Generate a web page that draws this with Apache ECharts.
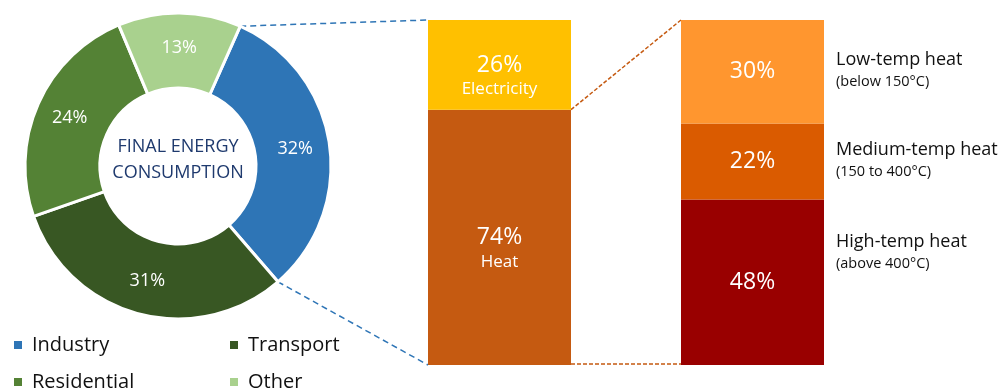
<!DOCTYPE html>
<html>
<head>
<meta charset="utf-8">
<script src="https://cdn.jsdelivr.net/npm/echarts@6/dist/echarts.min.js"></script>
<style>
  html, body { margin: 0; padding: 0; background: #fff; }
  #main { width: 1008px; height: 391px; }
</style>
</head>
<body>
<div id="main"></div>
<script>
// 数据
const sectors = ['Industry', 'Transport', 'Residential', 'Other'];
const sectorShare = [32, 31, 24, 13];
const sectorColors = ['#2E75B6', '#385723', '#548235', '#A9D18E'];

const barCats = ['Industry', 'Heat'];
const heatShare = [74, '-'];
const elecShare = [26, '-'];
const highShare = ['-', 48];
const medShare = ['-', 22];
const lowShare = ['-', 30];

const heatNames = ['Low-temp heat', 'Medium-temp heat', 'High-temp heat'];
const heatRanges = ['(below 150°C)', '(150 to 400°C)', '(above 400°C)'];

const fontFamily = '"Open Sans", "Noto Sans", sans-serif';
const pieCenter = [178, 166];
const pieRadius = [78, 153];
const startAngle = 66;
const barWidth = 143;

let chart = echarts.init(document.getElementById('main'));

function barSeries(name, data, color, label) {
  return {
    name: name,
    type: 'bar',
    stack: 'total',
    data: data,
    barWidth: barWidth,
    xAxisIndex: 0,
    yAxisIndex: 0,
    itemStyle: { color: color },
    label: label,
    silent: true
  };
}

const pctLabel = {
  show: true,
  position: 'inside',
  color: '#fff',
  fontFamily: fontFamily,
  fontSize: 23,
  formatter: '{c}%'
};

// 百分比居中，名称在下方
function namedLabel(text) {
  return {
    show: true,
    position: 'inside',
    offset: [0, 12],
    formatter: '{p|{c}%}\n{n|' + text + '}',
    rich: {
      p: { color: '#fff', fontFamily: fontFamily, fontSize: 23, lineHeight: 25 },
      n: { color: '#fff', fontFamily: fontFamily, fontSize: 17, lineHeight: 23 }
    }
  };
}

function legendOpt(data, left) {
  return {
    data: data,
    orient: 'vertical',
    left: left, top: 335,
    height: 120,
    padding: 0,
    itemWidth: 10, itemHeight: 10, itemGap: 17,
    icon: 'rect',
    textStyle: { fontFamily: fontFamily, fontSize: 20, color: '#111', padding: [0, 0, 0, 4] }
  };
}

let option = {
  backgroundColor: '#fff',
  animation: false,
  legend: [
    legendOpt(['Industry', 'Residential'], 12),
    legendOpt(['Transport', 'Other'], 228)
  ],
  grid: { left: 373, width: 506, top: 20, bottom: 26 },
  xAxis: { type: 'category', data: barCats, show: false },
  yAxis: { type: 'value', min: 0, max: 100, show: false },
  series: [
    {
      name: 'Final energy',
      type: 'pie',
      center: pieCenter,
      radius: pieRadius,
      startAngle: startAngle,
      clockwise: true,
      silent: true,
      data: sectors.map((n, i) => ({ name: n, value: sectorShare[i], itemStyle: { color: sectorColors[i] } })),
      itemStyle: { borderColor: '#fff', borderWidth: 3 },
      label: {
        show: true,
        position: 'inside',
        formatter: '{c}%',
        color: '#fff',
        fontFamily: fontFamily,
        fontSize: 18
      },
      labelLine: { show: false }
    },
    barSeries('Heat', heatShare, '#C55A11', namedLabel('Heat')),
    barSeries('Electricity', elecShare, '#FFC000', namedLabel('Electricity')),
    barSeries('High-temp', highShare, '#990000', pctLabel),
    barSeries('Medium-temp', medShare, '#DA5B00', pctLabel),
    barSeries('Low-temp', lowShare, '#FF962F', pctLabel)
  ]
};
chart.setOption(option);

// 连接虚线和文字
function piePoint(deg) {
  let a = deg * Math.PI / 180;
  return [pieCenter[0] + pieRadius[1] * Math.cos(a), pieCenter[1] - pieRadius[1] * Math.sin(a)];
}
function px(cat, val) {
  return chart.convertToPixel({ xAxisIndex: 0, yAxisIndex: 0 }, [cat, val]);
}
let total = sectorShare.reduce((a, b) => a + b, 0);
let pA = piePoint(startAngle);
let pB = piePoint(startAngle - sectorShare[0] / total * 360);
let b1Top = px(0, 100), b1Bot = px(0, 0), b1Split = px(0, heatShare[0]);
let b2Top = px(1, 100), b2Bot = px(1, 0);
let half = barWidth / 2;

function dashLine(p, q, color, dash) {
  return {
    type: 'line',
    shape: { x1: p[0], y1: p[1], x2: q[0], y2: q[1] },
    style: { stroke: color, lineWidth: 1.5, lineDash: dash },
    silent: true
  };
}

let graphics = [
  dashLine(pA, [b1Top[0] - half, b1Top[1]], '#2E75B6', [6, 4]),
  dashLine(pB, [b1Bot[0] - half, b1Bot[1]], '#2E75B6', [6, 4]),
  dashLine([b1Split[0] + half, b1Split[1]], [b2Top[0] - half, b2Top[1]], '#C55A11', [4, 2]),
  dashLine([b1Bot[0] + half, b1Bot[1] - 1], [b2Bot[0] - half, b2Bot[1] - 1], '#C55A11', [4, 2]),
  {
    type: 'text',
    x: pieCenter[0], y: 160,
    style: {
      text: 'FINAL ENERGY\nCONSUMPTION',
      fill: '#1F3A6E',
      font: '18px ' + fontFamily,
      lineHeight: 26,
      textAlign: 'center',
      textVerticalAlign: 'middle'
    },
    silent: true
  }
];

const labelTop = [60, 150, 242];
heatNames.forEach((n, i) => {
  graphics.push({
    type: 'text', x: b2Top[0] + half + 12, y: labelTop[i],
    style: { text: n, fill: '#111', font: '18px ' + fontFamily, textVerticalAlign: 'middle' },
    silent: true
  });
  graphics.push({
    type: 'text', x: b2Top[0] + half + 12, y: labelTop[i] + 22,
    style: { text: heatRanges[i], fill: '#111', font: '14.5px ' + fontFamily, textVerticalAlign: 'middle' },
    silent: true
  });
});

chart.setOption({ graphic: graphics });
</script>
</body>
</html>
